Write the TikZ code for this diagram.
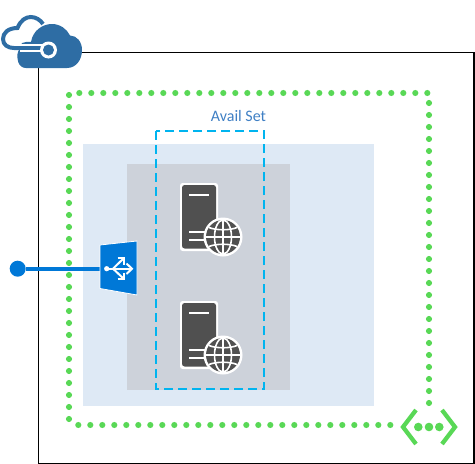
\documentclass[tikz,border=0pt]{standalone}
\usepackage{fontspec}
\setmainfont{Carlito}
\definecolor{azure}{HTML}{2E6DA4}
\definecolor{lbblue}{HTML}{0078D7}
\definecolor{vnetgreen}{HTML}{59D856}
\definecolor{paleblue}{HTML}{DEE9F5}
\definecolor{palegrey}{HTML}{CDD2DA}
\definecolor{dashblue}{HTML}{00B4EF}
\definecolor{srv}{HTML}{505050}
\definecolor{labelblue}{HTML}{3F7FC4}
\tikzset{
  dotline/.style={draw=vnetgreen,line width=4.6pt,line cap=round,dash pattern=on 0pt off 9pt},
  server/.pic={
    \fill[white,rounded corners=2pt] (0,0) rectangle (38,68);
    \fill[srv,rounded corners=2pt] (2,2) rectangle (36,65.5);
    \draw[white,line width=1.5pt] (9,12) -- (29,12) (9,49) -- (29,49) (9,57) -- (29,57);
    \fill[white] (43,54) circle (19.5);
    \fill[srv] (43,54) circle (17);
    \draw[white,line width=1.2pt] (43,37) -- (43,71);
    \draw[white,line width=1.2pt] (26,54) -- (60,54);
    \draw[white,line width=1.2pt] (43,54) ellipse (8.5 and 17);
    \draw[white,line width=1.2pt] (29,44.5) .. controls (36,47.5) and (50,47.5) .. (57,44.5);
    \draw[white,line width=1.2pt] (29,63.5) .. controls (36,60.5) and (50,60.5) .. (57,63.5);
  }
}
\begin{document}
\begin{tikzpicture}[x=0.75pt,y=-0.75pt]
\useasboundingbox (0,0) rectangle (475,464);
% outer box
\coordinate (oa) at (38.3,52.8); \coordinate (ob) at (474,463.3);
\draw[black,line width=0.9pt] (oa) rectangle (ob);
% panels
\fill[paleblue] (83.3,144) rectangle (374,406);
\fill[palegrey] (127,164) rectangle (290,390);
% vnet dotted
\draw[dotline] (390.3,425) -- (78.3,425);
\draw[dotline] (69,419) -- (69,95);
\draw[dotline] (79.3,93) -- (427.3,93);
\draw[dotline] (429,403) -- (429,103);
% avail set
\draw[dashblue,line width=1.5pt,dash pattern=on 6.5pt off 4pt] (156,131) rectangle (264,389);
\node[text=labelblue,font=\fontsize{12pt}{14pt}\selectfont,inner sep=0pt] (availlabel) at (238.5,116) {Avail Set};
% servers
\pic at (180,183) {server};
\pic at (180,301) {server};
% load balancer
\node[circle,fill=lbblue,minimum size=12pt,inner sep=0pt] (dot) at (17.7,268.7) {};
\coordinate (lb) at (100,268.7);
\draw[lbblue,line width=3pt] (dot) -- (lb);
\draw[white,fill=lbblue,line width=0.6pt,line join=round] (100,245) -- (137,241) -- (137,295) -- (100,288.5) -- cycle;
\begin{scope}[white,line width=1.5pt]
  \fill (106.7,268.7) circle (2.6);
  \draw (106.7,268.7) -- (131,268.7);
  \draw (126.5,263.5) -- (132,268.7) -- (126.5,274);
  \draw (113,268.7) -- (124,258);
  \draw (113,268.7) -- (124,279);
  \draw (117.5,258) -- (124,258) -- (124,264.5) (117.5,279) -- (124,279) -- (124,272.5);
\end{scope}
% vnet icon
\coordinate (vnet) at (429,427);
\draw[vnetgreen,line width=3.2pt] (416,410) -- (403,427) -- (416,444);
\draw[vnetgreen,line width=3.2pt] (442,410) -- (455,427) -- (442,444);
\fill[vnetgreen] (418.3,427) circle (4.3) (429,427) circle (4.3) (439.3,427) circle (4.3);
% azure cloud
\draw[azure,line width=3pt] (43,24) .. controls (38,16) and (24,12) .. (17.5,28) .. controls (8,28) and (3,33) .. (3,39) .. controls (3,45) and (8,48) .. (14,48) -- (46,48);
\fill[white] (21,42) rectangle (40,46);
\fill[azure] (26,68) .. controls (18,68) and (16,58) .. (18,52) -- (22,43) .. controls (25,42) and (28,41.5) .. (31,42) .. controls (33,30) and (43,24) .. (52,24) .. controls (60,24) and (67,29) .. (70,35.5) .. controls (77,35.5) and (82,42) .. (82,50) .. controls (82,60) and (76,68) .. (67,68) -- cycle;
\draw[white,line width=5.5pt] (20,48) -- (45,48);
\draw[azure,line width=3pt] (14,48) -- (46,48);
\fill[white] (48.5,50) circle (8.5);
\fill[azure] (48.5,50) circle (5.5);
\end{tikzpicture}
\end{document}
